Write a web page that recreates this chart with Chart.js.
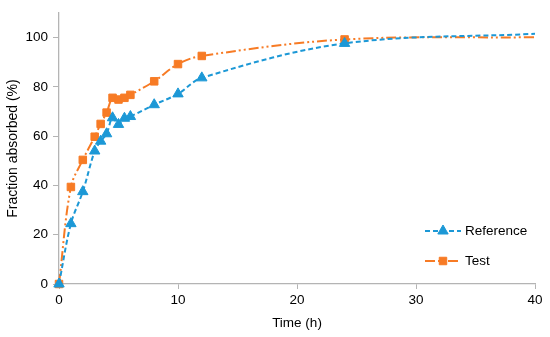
<!DOCTYPE html>
<html>
<head>
<meta charset="utf-8">
<script src="https://cdn.jsdelivr.net/npm/chart.js@4"></script>
<style>
  html, body { margin: 0; padding: 0; background: #fff; }
  #wrap { width: 550px; height: 337px; }
</style>
</head>
<body>
<div id="wrap"><canvas id="chart" width="550" height="337"></canvas></div>
<script>
// data
const hours = [0, 1, 2, 3, 3.5, 4, 4.5, 5, 5.5, 6, 8, 10, 12, 24, 40];
const referenceValues = [0, 24.5, 37.5, 54, 58, 61, 67.5, 64.8, 67.3, 68, 72.8, 77.2, 83.7, 97.7, 101.6];
const testValues = [0, 39.4, 50.4, 59.8, 65, 69.6, 75.6, 74.9, 75.6, 76.8, 82.3, 89.3, 92.6, 99.3, 100.2];
const xTicks = [0, 10, 20, 30, 40];
const yTicks = [0, 20, 40, 60, 80, 100];

const BLUE = '#1c98d6';
const ORANGE = '#f77b25';
const AXIS = '#b4b4b4';
const FONT = "'Liberation Sans', Arial, sans-serif";
const TRI_R = 6;
const SQ_R = 5.3;

function toPoints(vals) {
  return vals.map((v, i) => ({ x: hours[i], y: v }));
}
// the last point only carries the curve to the edge, no marker there
const markerSize = r => ctx => (ctx.dataIndex === hours.length - 1 ? 0 : r);

const legendPlugin = {
  id: 'lineLegend',
  afterDraw(chart) {
    const c = chart.ctx;
    const items = [
      { label: 'Reference', color: BLUE, dash: [5, 3], style: 'triangle', r: TRI_R, y: 231 },
      { label: 'Test', color: ORANGE, dash: [10, 3, 2, 3, 2, 3], style: 'rect', r: SQ_R, y: 261 }
    ];
    items.forEach(it => {
      c.save();
      c.strokeStyle = it.color;
      c.lineWidth = 2;
      c.setLineDash(it.dash);
      c.beginPath();
      c.moveTo(425, it.y);
      c.lineTo(461, it.y);
      c.stroke();
      c.restore();
      c.save();
      c.fillStyle = it.color;
      c.strokeStyle = it.color;
      c.lineWidth = 1;
      Chart.helpers.drawPoint(c, { pointStyle: it.style, radius: it.r, borderWidth: 1 }, 443, it.y);
      c.restore();
      c.save();
      c.fillStyle = '#000';
      c.font = '13.5px ' + FONT;
      c.textBaseline = 'middle';
      c.fillText(it.label, 465, it.y);
      c.restore();
    });
  }
};

new Chart(document.getElementById('chart').getContext('2d'), {
  type: 'line',
  data: {
    datasets: [
      {
        label: 'Reference',
        data: toPoints(referenceValues),
        borderColor: BLUE,
        backgroundColor: BLUE,
        borderWidth: 2,
        borderDash: [5, 3],
        pointStyle: 'triangle',
        pointRadius: markerSize(TRI_R),
        pointBorderWidth: 1,
        tension: 0.35,
        clip: { left: 10, top: 10, right: 0, bottom: 10 }
      },
      {
        label: 'Test',
        data: toPoints(testValues),
        borderColor: ORANGE,
        backgroundColor: ORANGE,
        borderWidth: 2,
        borderDash: [10, 3, 2, 3, 2, 3],
        pointStyle: 'rect',
        pointRadius: markerSize(SQ_R),
        pointBorderWidth: 1,
        tension: 0.35,
        clip: { left: 10, top: 10, right: 0, bottom: 10 }
      }
    ]
  },
  options: {
    responsive: false,
    animation: false,
    layout: { padding: { left: 0, right: 15, top: 5, bottom: 0 } },
    plugins: {
      legend: { display: false },
      tooltip: { enabled: false }
    },
    scales: {
      x: {
        type: 'linear',
        min: 0,
        max: 40,
        afterBuildTicks: s => { s.ticks = xTicks.map(v => ({ value: v })); },
        afterFit: s => { s.height = 53; },
        border: { color: AXIS, width: 1.3 },
        grid: { drawOnChartArea: false, drawTicks: true, tickLength: 5, color: AXIS },
        ticks: { color: '#000', font: { family: FONT, size: 13.5 }, padding: 3, maxRotation: 0 },
        title: { display: true, text: 'Time (h)', color: '#000', font: { family: FONT, size: 13.5 }, padding: { top: 3, bottom: 6 } }
      },
      y: {
        min: 0,
        max: 110,
        afterBuildTicks: s => { s.ticks = yTicks.map(v => ({ value: v })); },
        afterFit: s => { s.width = 59; },
        border: { color: AXIS, width: 1.3 },
        grid: { drawOnChartArea: false, drawTicks: true, tickLength: 6, color: AXIS },
        ticks: { color: '#000', font: { family: FONT, size: 13.5 }, padding: 5 },
        title: { display: true, text: 'Fraction absorbed (%)', color: '#000', font: { family: FONT, size: 14 }, padding: { top: 5, bottom: 4 } }
      }
    }
  },
  plugins: [legendPlugin]
});
</script>
</body>
</html>
